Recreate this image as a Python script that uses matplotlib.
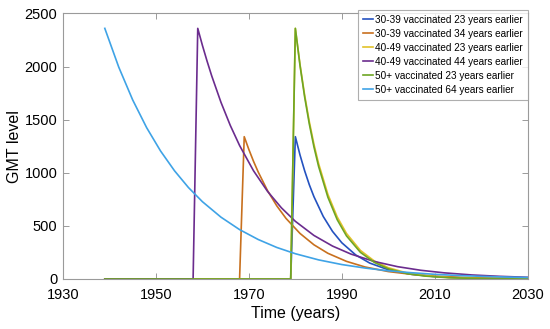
import matplotlib
matplotlib.use("Agg")
import matplotlib.pyplot as plt

plt.rcParams['font.family'] = ['Liberation Sans', 'DejaVu Sans']

labels = [
    "30-39 vaccinated 23 years earlier",
    "30-39 vaccinated 34 years earlier",
    "40-49 vaccinated 23 years earlier",
    "40-49 vaccinated 44 years earlier",
    "50+ vaccinated 23 years earlier",
    "50+ vaccinated 64 years earlier",
]
colors = ['#2452C0', '#C8701E', '#E2C22A', '#6B2C8E', '#6DA524', '#3FA3E6']

# 30-39 vaccinated 23 years earlier
years_a = [1939, 1979, 1980, 1981, 1982, 1983, 1984, 1986, 1988, 1990, 1993, 1996, 2000, 2005, 2010, 2016, 2022, 2030]
gmt_a = [0, 0, 1340, 1168, 1019, 888, 775, 589, 448, 341, 226, 150, 87, 44, 22, 10, 4, 1]

# 30-39 vaccinated 34 years earlier
years_b = [1939, 1968, 1969, 1970, 1971, 1972, 1974, 1976, 1978, 1981, 1984, 1987, 1991, 1995, 2000, 2005, 2010, 2016, 2022, 2030]
gmt_b = [0, 0, 1340, 1219, 1108, 1008, 833, 689, 570, 429, 322, 242, 166, 113, 70, 44, 27, 15, 9, 4]

# 40-49 vaccinated 23 years earlier
years_c = [1939, 1979, 1980, 1981, 1982, 1983, 1984, 1985, 1987, 1989, 1991, 1994, 1997, 2000, 2004, 2008, 2013, 2020, 2030]
gmt_c = [0, 0, 2360, 2021, 1731, 1483, 1269, 1087, 797, 585, 429, 269, 169, 106, 57, 31, 14, 5, 1]

# 40-49 vaccinated 44 years earlier
years_d = [1939, 1958, 1959, 1960, 1961, 1962, 1964, 1966, 1968, 1971, 1974, 1977, 1980, 1984, 1988, 1992, 1997, 2002, 2007, 2012, 2018, 2024, 2030]
gmt_d = [0, 0, 2360, 2200, 2052, 1913, 1663, 1446, 1257, 1019, 826, 670, 543, 410, 310, 234, 165, 116, 82, 58, 38, 25, 16]

# 50+ vaccinated 23 years earlier
years_e = [1939, 1979, 1980, 1981, 1982, 1983, 1984, 1985, 1987, 1989, 1991, 1994, 1997, 2000, 2004, 2008, 2013, 2020, 2030]
gmt_e = [0, 0, 2360, 2011, 1714, 1460, 1244, 1060, 770, 559, 406, 251, 156, 96, 51, 27, 12, 4, 0]

# 50+ vaccinated 64 years earlier
years_f = [1939, 1942, 1945, 1948, 1951, 1954, 1957, 1960, 1964, 1968, 1972, 1976, 1980, 1985, 1990, 1995, 2000, 2005, 2010, 2015, 2020, 2025, 2030]
gmt_f = [2360, 1995, 1686, 1425, 1205, 1019, 861, 728, 582, 465, 372, 297, 238, 180, 136, 103, 77, 59, 44, 33, 25, 19, 14]

series = [(years_a, gmt_a), (years_b, gmt_b), (years_c, gmt_c),
          (years_d, gmt_d), (years_e, gmt_e), (years_f, gmt_f)]

xticks = [1930, 1950, 1970, 1990, 2010, 2030]
yticks = [0, 500, 1000, 1500, 2000, 2500]

fig = plt.figure(figsize=(5.5, 3.29), dpi=100)
ax = fig.add_axes([0.1145, 0.152, 0.845, 0.807])

for (xs, ys), c, lab in zip(series, colors, labels):
    ax.plot(xs, ys, color=c, lw=1.2, label=lab)

ax.set_xlim(1930, 2030)
ax.set_ylim(0, 2500)
ax.set_xticks(xticks)
ax.set_yticks(yticks)
ax.tick_params(direction='in', top=True, right=True, length=4, width=0.6,
               color='#8a8a8a', labelsize=10.5)
ax.tick_params(axis='x', pad=6.5)
ax.tick_params(axis='y', pad=4)
for s in ax.spines.values():
    s.set_color('#9a9a9a')
    s.set_linewidth(0.8)
ax.set_xlabel("Time (years)", fontsize=11.5, labelpad=3)
ax.set_ylabel("GMT level", fontsize=11.5, labelpad=2)

leg = ax.legend(loc='upper right', fontsize=7.2, frameon=True, fancybox=False,
                edgecolor='#9a9a9a', handlelength=1.0, handletextpad=0.2,
                borderpad=0.5, labelspacing=0.4, borderaxespad=0.0,
                bbox_to_anchor=(1.0, 1.015))
leg.get_frame().set_linewidth(0.8)

fig.savefig("out.png", dpi=100)
